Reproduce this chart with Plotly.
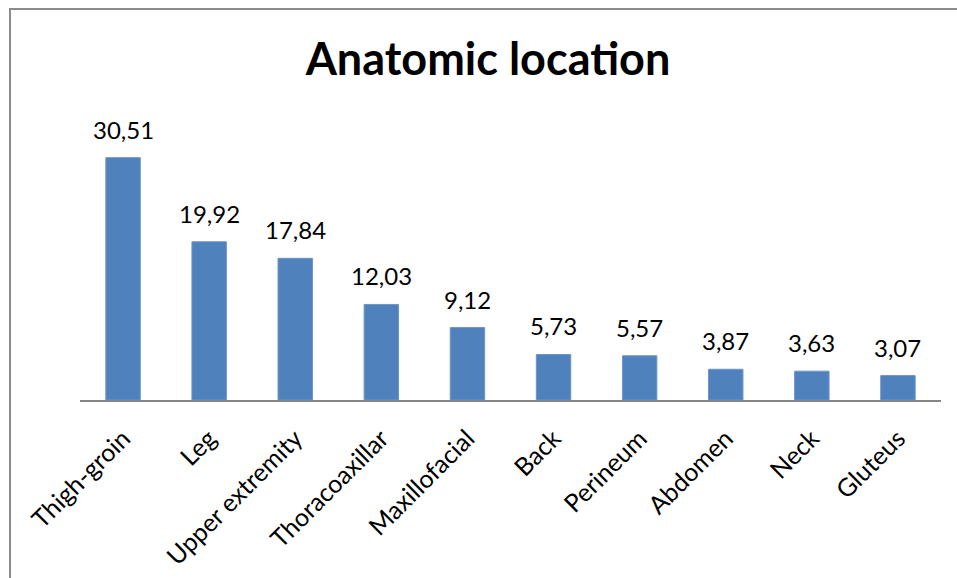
import plotly.graph_objects as go

categories = ["Thigh-groin", "Leg", "Upper extremity", "Thoracoaxillar", "Maxillofacial",
              "Back", "Perineum", "Abdomen", "Neck", "Gluteus"]
values = [30.51, 19.92, 17.84, 12.03, 9.12, 5.73, 5.57, 3.87, 3.63, 3.07]
value_labels = ["30,51", "19,92", "17,84", "12,03", "9,12", "5,73", "5,57", "3,87", "3,63", "3,07"]

W, H = 957, 578
L, R, T, B = 80, 16, 122, 178
pw, ph = W - L - R, H - T - B

FONT = "Lato"

fig = go.Figure(go.Bar(
    x=categories, y=values,
    marker=dict(color="#4F81BD", line=dict(color="#6D95C9", width=1)),
    width=0.4,
    hoverinfo="skip",
))

for c, v, t in zip(categories, values, value_labels):
    fig.add_annotation(x=c, y=v, text=t, showarrow=False, yanchor="bottom",
                       yshift=12, font=dict(family=FONT, size=24, color="#000000"))

# chart border
fig.add_shape(type="rect", xref="paper", yref="paper",
              x0=(10 - L) / pw, x1=(W + 20 - L) / pw,
              y0=(H - B - (H + 20)) / ph, y1=(H - B - 9) / ph,
              line=dict(color="#8c8c8c", width=2), fillcolor="rgba(0,0,0,0)", layer="below")

fig.update_layout(
    width=W, height=H,
    margin=dict(l=L, r=R, t=T, b=B, pad=0, autoexpand=False),
    paper_bgcolor="white", plot_bgcolor="white",
    title=dict(text="<b>Anatomic location</b>", x=488 / W, xanchor="center",
               y=1 - 59 / H, yanchor="middle", yref="container",
               font=dict(family=FONT, size=45, color="#000000")),
    xaxis=dict(showline=True, linecolor="#868686", linewidth=2, ticks="",
               tickangle=-45, tickfont=dict(family=FONT, size=25, color="#000000"),
               ticklabelstandoff=12, showgrid=False, automargin=False),
    yaxis=dict(range=[0, 35], visible=False, showgrid=False, zeroline=False,
               automargin=False),
    showlegend=False,
    bargap=0.6,
)

fig.write_html("out.html")
